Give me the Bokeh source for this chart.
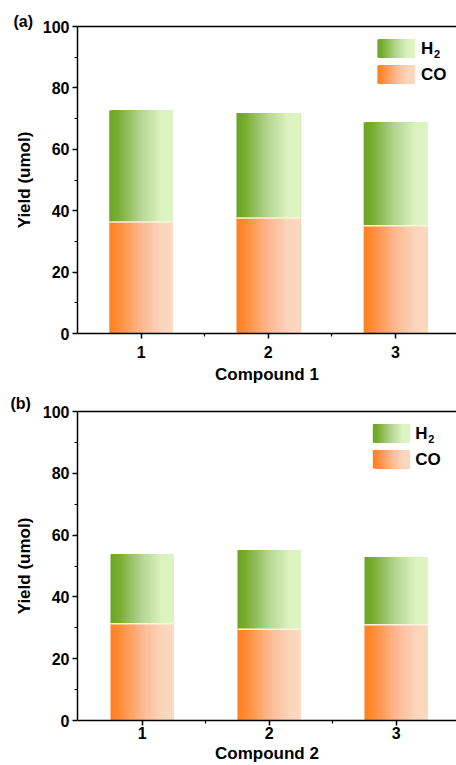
import numpy as np
from bokeh.plotting import figure
from bokeh.models import Range1d, LinearAxis, FixedTicker, Label, ColumnDataSource
from bokeh.layouts import column
from bokeh.embed import file_html
from bokeh.resources import INLINE

# ---------------- data ----------------
compounds = [1, 2, 3]
co_a = [36.3, 37.6, 35.1]
h2_a = [36.3, 34.2, 33.6]
co_b = [31.3, 29.5, 31.0]
h2_b = [22.5, 25.6, 21.9]
series_names = ["H2", "CO"]
panel_titles = ["(a)", "(b)"]
xlabels = ["Compound 1", "Compound 2"]
ylabel = "Yield (umol)"

# ---------------- style ----------------
FONT = "Liberation Sans"
BAR_W = 0.5
NSTRIP = 64
GREEN = [(0.0, (106, 166, 34)), (0.12, (118, 172, 48)), (0.5, (182, 214, 146)), (0.8, (218, 242, 190)), (1.0, (222, 245, 195))]
ORANGE = [(0.0, (255, 128, 30)), (0.12, (255, 138, 50)), (0.5, (252, 184, 145)), (0.8, (250, 212, 186)), (1.0, (250, 218, 192))]


def grad_color(stops, t):
    for (t0, c0), (t1, c1) in zip(stops[:-1], stops[1:]):
        if t <= t1:
            f = (t - t0) / (t1 - t0)
            c = [round(a + (b - a) * f) for a, b in zip(c0, c1)]
            return "#%02x%02x%02x" % tuple(c)
    return "#%02x%02x%02x" % stops[-1][1]


def add_strips(src, xc, w, bottom, top, stops):
    # each strip runs from its own left edge to the bar's right edge; later strips paint over
    right = xc + w / 2
    for i in range(NSTRIP):
        left = xc - w / 2 + i * w / NSTRIP
        src["x"].append((left + right) / 2)
        src["w"].append(right - left)
        src["b"].append(bottom)
        src["t"].append(top)
        src["c"].append(grad_color(stops, (i + 0.5) / NSTRIP))


def make_panel(co, h2, title, xlabel, height, top_border, bottom_border, left_border,
               xrange_, leg, tick_standoff, label_standoff, title_offset, title_standoff):
    p = figure(width=456, height=height, output_backend="svg", toolbar_location=None,
               x_range=Range1d(*xrange_), y_range=Range1d(0, 100),
               min_border_left=left_border, min_border_right=0,
               min_border_top=top_border, min_border_bottom=bottom_border)
    p.outline_line_color = None
    p.xgrid.visible = False
    p.ygrid.visible = False
    p.background_fill_color = "white"
    p.border_fill_color = "white"

    src = dict(x=[], w=[], b=[], t=[], c=[])
    for xc, c, h in zip(compounds, co, h2):
        add_strips(src, xc, BAR_W, 0, c, ORANGE)
        add_strips(src, xc, BAR_W, c, c + h, GREEN)
    (lx0, lx1, yh0, yh1, yc0, yc1, tx) = leg
    add_strips(src, (lx0 + lx1) / 2, lx1 - lx0, yh0, yh1, GREEN)
    add_strips(src, (lx0 + lx1) / 2, lx1 - lx0, yc0, yc1, ORANGE)
    p.vbar(x="x", width="w", bottom="b", top="t", fill_color="c", line_color=None,
           source=ColumnDataSource(src))
    p.segment(x0=[x - BAR_W / 2 for x in compounds], x1=[x + BAR_W / 2 for x in compounds],
              y0=co, y1=co, line_color="#fdf3df", line_width=1.5)

    p.add_layout(Label(x=tx, y=(yh0 + yh1) / 2, text="H", text_font=FONT, text_font_style="bold",
                       text_font_size="17px", text_baseline="middle", text_color="black"))
    p.add_layout(Label(x=tx, y=(yh0 + yh1) / 2, x_offset=13, y_offset=-6, text="2", text_font=FONT,
                       text_font_style="bold", text_font_size="11px", text_baseline="middle",
                       text_color="black"))
    p.add_layout(Label(x=tx, y=(yc0 + yc1) / 2, text="CO", text_font=FONT, text_font_style="bold",
                       text_font_size="17px", text_baseline="middle", text_color="black"))

    xa = p.xaxis[0]
    xa.ticker = FixedTicker(ticks=compounds, minor_ticks=[1.5, 2.5, 3.5])
    ya = p.yaxis[0]
    ya.ticker = FixedTicker(ticks=[0, 20, 40, 60, 80, 100], minor_ticks=[10, 30, 50, 70, 90])
    for ax in (xa, ya):
        ax.axis_line_width = 1.5
        ax.axis_line_color = "black"
        ax.major_tick_line_width = 1.5
        ax.major_tick_line_color = "black"
        ax.minor_tick_line_width = 1.2
        ax.minor_tick_line_color = "black"
        ax.major_tick_in = 0
        ax.major_tick_out = 5
        ax.minor_tick_in = 0
        ax.minor_tick_out = 3
        ax.major_label_text_font = FONT
        ax.major_label_text_font_style = "bold"
        ax.major_label_text_font_size = "16px"
        ax.major_label_text_color = "black"
        ax.axis_label_text_font = FONT
        ax.axis_label_text_font_style = "bold"
        ax.axis_label_text_font_size = "17px"
        ax.axis_label_text_color = "black"
    xa.axis_label = xlabel
    xa.major_label_standoff = tick_standoff
    xa.axis_label_standoff = label_standoff
    ya.axis_label = ylabel
    ya.major_label_standoff = 3
    ya.axis_label_standoff = 6

    top = LinearAxis(ticker=FixedTicker(ticks=[]), major_label_text_font_size="0px",
                     major_tick_line_color=None, minor_tick_line_color=None,
                     axis_line_width=1.5, axis_line_color="black")
    p.add_layout(top, "above")

    p.title.text = title
    p.title.text_font = FONT
    p.title.text_font_style = "bold"
    p.title.text_font_size = "16px"
    p.title.text_color = "black"
    p.title.align = "left"
    p.title.offset = title_offset
    p.title.standoff = title_standoff
    return p


pa = make_panel(co_a, h2_a, panel_titles[0], xlabels[0], height=393, top_border=26,
                bottom_border=60, left_border=77, xrange_=(0.5, 3.48),
                leg=(2.858, 3.149, 89.9, 95.8, 81.4, 87.3, 3.2),
                tick_standoff=7, label_standoff=4, title_offset=-64, title_standoff=-7)
pb = make_panel(co_b, h2_b, panel_titles[1], xlabels[1], height=372, top_border=16,
                bottom_border=44, left_border=72, xrange_=(0.49, 3.475),
                leg=(2.816, 3.104, 90.0, 95.9, 81.6, 87.5, 3.15),
                tick_standoff=1, label_standoff=2, title_offset=-67, title_standoff=-1)

layout = column(pa, pb, spacing=0)
open("out.html", "w").write(file_html(layout, INLINE))
